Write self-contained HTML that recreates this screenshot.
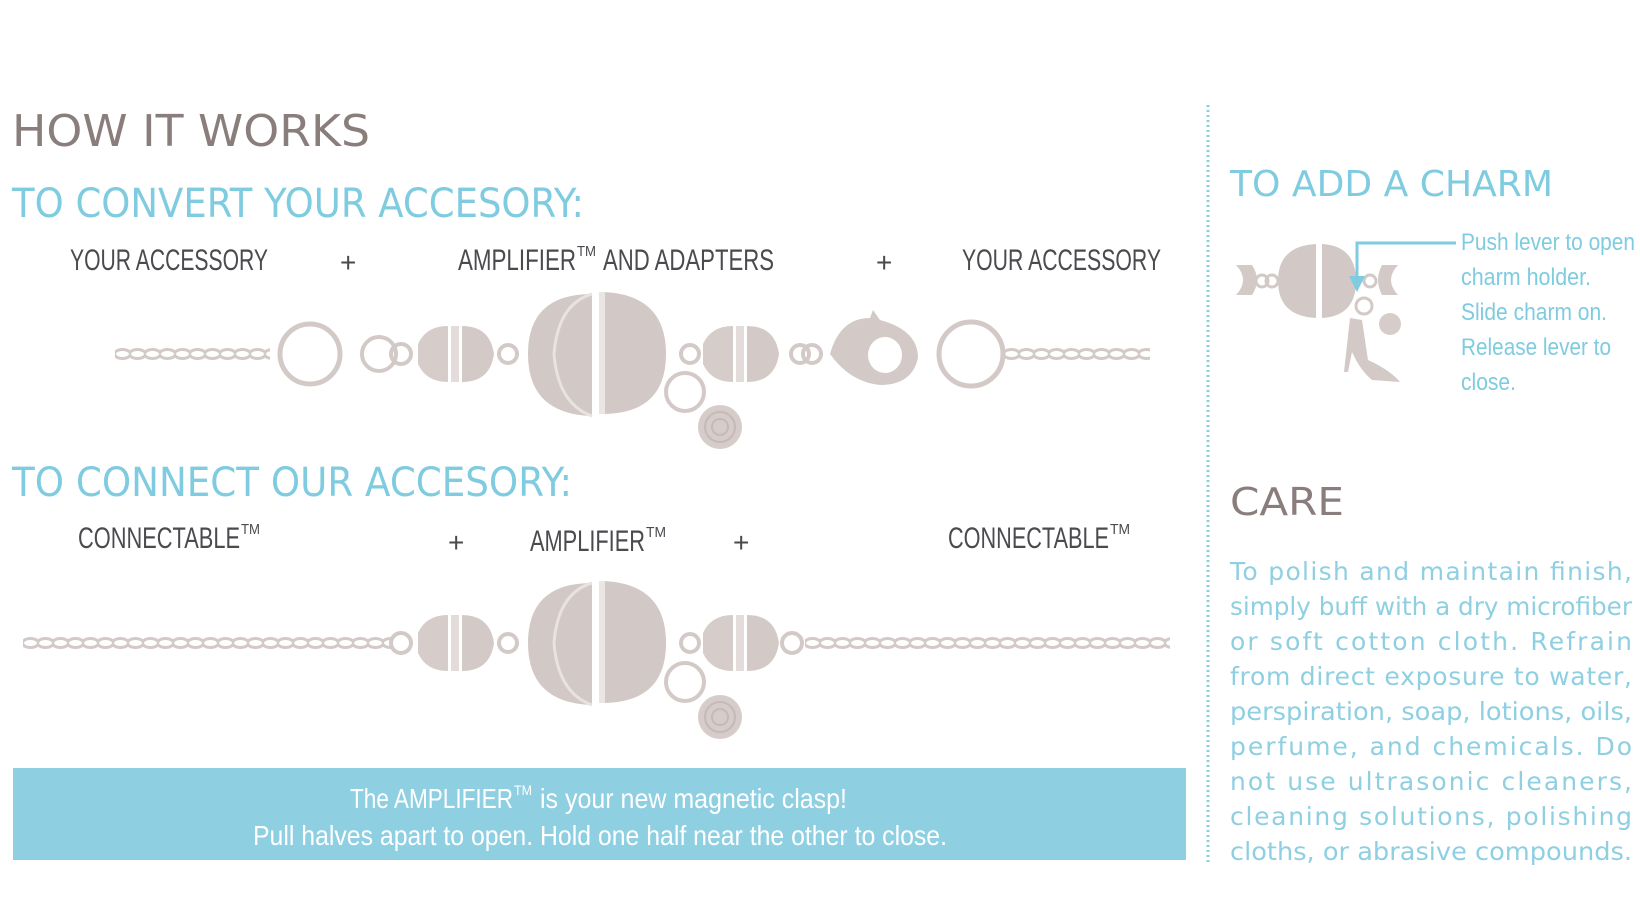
<!DOCTYPE html>
<html><head><meta charset="utf-8"><style>
html,body{margin:0;padding:0;background:#fff;}
svg{display:block;}
</style></head><body>
<svg width="1640" height="924" viewBox="0 0 1640 924" xmlns="http://www.w3.org/2000/svg">
<defs>
<pattern id="ch" patternUnits="userSpaceOnUse" width="15" height="20">
<ellipse cx="7.5" cy="10" rx="8" ry="4.5" fill="none" stroke="#d3cac7" stroke-width="3"/>
</pattern>
<g id="adapterL">
<path d="M0,-10 Q8,-28 30,-28 L30,28 Q8,28 0,10 Z" fill="#d6cdca"/>
<rect x="33" y="-28" width="8" height="56" fill="#e3dcda"/>
<path d="M44,-28 Q72,-28 76,0 Q72,28 44,28 Z" fill="#d3cac7"/>
</g>
<g id="ball">
<path d="M64,-60 Q0,-60 0,0 Q0,60 64,62 Z" fill="#d2c8c5"/>
<path d="M64,-60 Q30,-50 26,0 Q30,50 64,62" fill="none" stroke="#e8e2e0" stroke-width="3"/>
<path d="M74,-62 Q138,-60 138,0 Q138,60 74,60 Z" fill="#d2c8c5"/>
<path d="M74,-62 L74,60" stroke="#ebe6e4" stroke-width="6"/>
</g>
<g id="charm">
<circle cx="0" cy="0" r="19" fill="none" stroke="#d3cac7" stroke-width="4"/>
<circle cx="35" cy="35" r="22" fill="#d6cdca"/>
<circle cx="35" cy="35" r="15" fill="none" stroke="#c5bab6" stroke-width="2"/>
<circle cx="35" cy="35" r="8" fill="none" stroke="#c5bab6" stroke-width="2"/>
</g>
</defs>

<text x="12" y="146" font-family="DejaVu Sans, sans-serif" font-size="44" fill="#8a7e7d" textLength="358" lengthAdjust="spacingAndGlyphs">HOW IT WORKS</text>
<text x="12" y="217" font-family="DejaVu Sans, sans-serif" font-size="40" fill="#7fcbe0" textLength="572" lengthAdjust="spacingAndGlyphs">TO CONVERT YOUR ACCESORY:</text>
<text x="12" y="496" font-family="DejaVu Sans, sans-serif" font-size="40" fill="#7fcbe0" textLength="560" lengthAdjust="spacingAndGlyphs">TO CONNECT OUR ACCESORY:</text>

<g font-family="Liberation Sans Narrow, Liberation Sans, sans-serif" font-size="30" fill="#4a4a4f">
<text x="70" y="270" textLength="198" lengthAdjust="spacingAndGlyphs">YOUR ACCESSORY</text>
<text x="340" y="272" font-size="28">+</text>
<text x="458" y="270" textLength="118" lengthAdjust="spacingAndGlyphs">AMPLIFIER</text>
<text x="577" y="256" font-size="15" textLength="19" lengthAdjust="spacingAndGlyphs">TM</text>
<text x="603" y="270" textLength="171" lengthAdjust="spacingAndGlyphs">AND ADAPTERS</text>
<text x="876" y="272" font-size="28">+</text>
<text x="962" y="270" textLength="199" lengthAdjust="spacingAndGlyphs">YOUR ACCESSORY</text>

<text x="78" y="548" textLength="162" lengthAdjust="spacingAndGlyphs">CONNECTABLE</text>
<text x="241" y="534" font-size="15" textLength="19" lengthAdjust="spacingAndGlyphs">TM</text>
<text x="448" y="552" font-size="28">+</text>
<text x="530" y="551" textLength="115" lengthAdjust="spacingAndGlyphs">AMPLIFIER</text>
<text x="646" y="537" font-size="15" textLength="20" lengthAdjust="spacingAndGlyphs">TM</text>
<text x="733" y="552" font-size="28">+</text>
<text x="948" y="548" textLength="161" lengthAdjust="spacingAndGlyphs">CONNECTABLE</text>
<text x="1110" y="534" font-size="15" textLength="20" lengthAdjust="spacingAndGlyphs">TM</text>
</g>

<!-- Row 1 graphics -->
<g transform="translate(115,344)"><rect width="155" height="20" fill="url(#ch)"/></g>
<circle cx="310" cy="354" r="30" fill="none" stroke="#d3cac7" stroke-width="5"/>
<circle cx="379" cy="354" r="17" fill="none" stroke="#d3cac7" stroke-width="4"/>
<circle cx="401" cy="354" r="10" fill="none" stroke="#d3cac7" stroke-width="4"/>
<use href="#adapterL" x="418" y="354"/>
<circle cx="508" cy="354" r="9" fill="none" stroke="#d3cac7" stroke-width="4"/>
<use href="#ball" x="528" y="354"/>
<use href="#charm" x="685" y="392"/>
<circle cx="690" cy="354" r="9" fill="none" stroke="#d3cac7" stroke-width="4"/>
<use href="#adapterL" x="703" y="354"/>
<circle cx="800" cy="354" r="9" fill="none" stroke="#d3cac7" stroke-width="4"/>
<circle cx="812" cy="354" r="9" fill="none" stroke="#d3cac7" stroke-width="4"/>
<path d="M830,354 Q840,318 870,318 L873,310 L880,320 Q918,330 918,358 Q912,385 880,385 Q850,382 830,354 Z" fill="#d3cac7"/>
<ellipse cx="885" cy="355" rx="17" ry="18" fill="#fff"/>
<circle cx="971" cy="354" r="32" fill="none" stroke="#d3cac7" stroke-width="5"/>
<g transform="translate(1004,344)"><rect width="146" height="20" fill="url(#ch)"/></g>

<!-- Row 2 graphics -->
<g transform="translate(23,633)"><rect width="370" height="20" fill="url(#ch)"/></g>
<circle cx="401" cy="643" r="10" fill="none" stroke="#d3cac7" stroke-width="4"/>
<use href="#adapterL" x="418" y="643"/>
<circle cx="508" cy="643" r="9" fill="none" stroke="#d3cac7" stroke-width="4"/>
<use href="#ball" x="528" y="643"/>
<use href="#charm" x="685" y="682"/>
<circle cx="690" cy="643" r="9" fill="none" stroke="#d3cac7" stroke-width="4"/>
<use href="#adapterL" x="703" y="643"/>
<circle cx="792" cy="643" r="10" fill="none" stroke="#d3cac7" stroke-width="4"/>
<g transform="translate(805,633)"><rect width="365" height="20" fill="url(#ch)"/></g>

<!-- Blue box -->
<rect x="13" y="768" width="1173" height="92" fill="#8ecfe2"/>
<g font-family="Liberation Sans Narrow, Liberation Sans, sans-serif" font-size="28" fill="#fff">
<text x="350" y="808" textLength="163" lengthAdjust="spacingAndGlyphs">The AMPLIFIER</text>
<text x="514" y="795" font-size="14" textLength="18" lengthAdjust="spacingAndGlyphs">TM</text>
<text x="540" y="808" textLength="307" lengthAdjust="spacingAndGlyphs">is your new magnetic clasp!</text>
<text x="253" y="845" textLength="694" lengthAdjust="spacingAndGlyphs">Pull halves apart to open.  Hold one half near the other to close.</text>
</g>

<line x1="1208" y1="105" x2="1208" y2="863" stroke="#8ecfe2" stroke-width="3" stroke-dasharray="2,3"/>

<text x="1230" y="196" font-family="DejaVu Sans, sans-serif" font-size="36" fill="#7fcbe0" textLength="323" lengthAdjust="spacingAndGlyphs">TO ADD A CHARM</text>
<path d="M1236,265 Q1250,280 1236,295 L1252,295 Q1262,280 1252,265 Z" fill="#d3cac7"/>
<circle cx="1262" cy="281" r="6" fill="none" stroke="#d3cac7" stroke-width="3"/>
<circle cx="1272" cy="281" r="6" fill="none" stroke="#d3cac7" stroke-width="3"/>
<path d="M1316,244 Q1278,246 1278,281 Q1278,316 1316,318 Z" fill="#d2c8c5"/>
<path d="M1322,244 Q1356,246 1356,281 Q1356,316 1322,318 Z" fill="#d2c8c5"/>
<circle cx="1370" cy="281" r="6" fill="none" stroke="#d3cac7" stroke-width="3"/>
<path d="M1398,265 Q1384,280 1398,295 L1382,295 Q1374,280 1382,265 Z" fill="#d3cac7"/>
<circle cx="1364" cy="306" r="8" fill="none" stroke="#d3cac7" stroke-width="3"/>
<circle cx="1390" cy="324" r="11" fill="#d6cdca"/>
<path d="M1350,318 L1362,320 L1368,360 Q1390,370 1400,382 L1372,380 Q1360,370 1352,352 L1348,372 L1344,372 Z" fill="#d3cac7"/>
<polyline points="1456,243 1357,243 1357,283" fill="none" stroke="#7fcbe0" stroke-width="3"/>
<polygon points="1349,276 1365,276 1357,292" fill="#7fcbe0"/>
<g font-family="Liberation Sans Narrow, Liberation Sans, sans-serif" font-size="24" fill="#7fcbe0">
<text x="1461" y="250" textLength="174" lengthAdjust="spacingAndGlyphs">Push lever to open</text>
<text x="1461" y="285" textLength="130" lengthAdjust="spacingAndGlyphs">charm holder.</text>
<text x="1461" y="320" textLength="146" lengthAdjust="spacingAndGlyphs">Slide charm on.</text>
<text x="1461" y="355" textLength="150" lengthAdjust="spacingAndGlyphs">Release lever to</text>
<text x="1461" y="390" textLength="55" lengthAdjust="spacingAndGlyphs">close.</text>
</g>
<text x="1230" y="515" font-family="DejaVu Sans, sans-serif" font-size="38" fill="#8a7e7d" textLength="114" lengthAdjust="spacingAndGlyphs">CARE</text>
<g font-family="DejaVu Sans, sans-serif" font-size="25" fill="#8ecfe2">
<text x="1230" y="580" textLength="402" lengthAdjust="spacing">To polish and maintain finish,</text>
<text x="1230" y="615" textLength="402" lengthAdjust="spacingAndGlyphs">simply buff with a dry microfiber</text>
<text x="1230" y="650" textLength="402" lengthAdjust="spacing">or soft cotton cloth.  Refrain</text>
<text x="1230" y="685" textLength="402" lengthAdjust="spacing">from direct exposure to water,</text>
<text x="1230" y="720" textLength="402" lengthAdjust="spacingAndGlyphs">perspiration, soap, lotions, oils,</text>
<text x="1230" y="755" textLength="402" lengthAdjust="spacing">perfume, and chemicals.  Do</text>
<text x="1230" y="790" textLength="402" lengthAdjust="spacing">not use ultrasonic cleaners,</text>
<text x="1230" y="825" textLength="402" lengthAdjust="spacing">cleaning solutions, polishing</text>
<text x="1230" y="860" textLength="402" lengthAdjust="spacingAndGlyphs">cloths, or abrasive compounds.</text>
</g>
</svg>
</body></html>
